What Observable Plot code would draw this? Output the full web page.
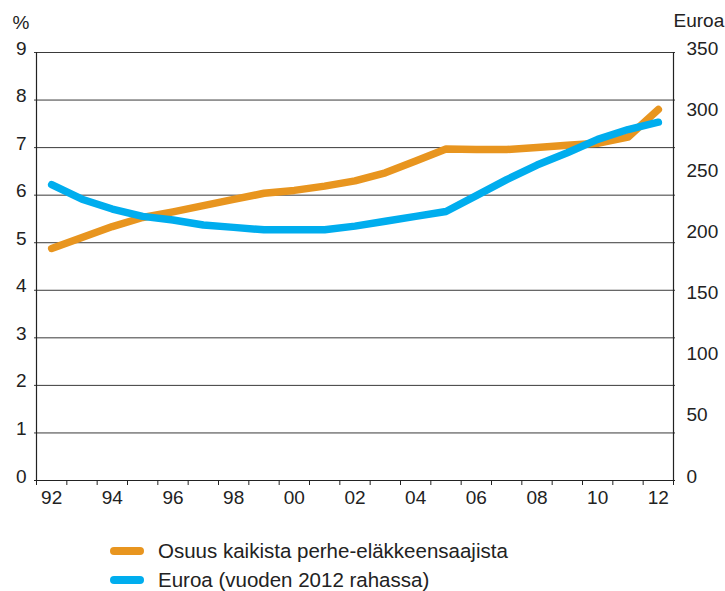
<!DOCTYPE html>
<html>
<head>
<meta charset="utf-8">
<script src="https://cdn.jsdelivr.net/npm/d3@7"></script>
<script src="https://cdn.jsdelivr.net/npm/@observablehq/plot@0.6"></script>
<style>
  html, body { margin: 0; padding: 0; background: #fff; }
  #wrap { position: relative; width: 725px; height: 591px; font-family: "Liberation Sans", "DejaVu Sans", sans-serif; color: #222; }
  .leg { position: absolute; left: 110px; height: 20px; line-height: 20px; display: flex; align-items: center; font-size: 20.5px; white-space: nowrap; }
  .sw { width: 34px; height: 8px; border-radius: 4px; margin-right: 14px; }
</style>
</head>
<body>
<div id="wrap"></div>
<script>
const years = [1992,1993,1994,1995,1996,1997,1998,1999,2000,2001,2002,2003,2004,2005,2006,2007,2008,2009,2010,2011,2012];
const osuus = [4.88,5.11,5.34,5.53,5.65,5.78,5.91,6.04,6.10,6.19,6.30,6.47,6.72,6.97,6.96,6.96,7.00,7.05,7.09,7.22,7.80];
const euroa = [242,230,222,216,213,209,207,205,205,205,208,212,216,220,233,246,258,268,279,287,293];
const pctTicks = [0,1,2,3,4,5,6,7,8,9];
const eurTicks = [0,50,100,150,200,250,300,350];
const labelYears = [1992,1994,1996,1998,2000,2002,2004,2006,2008,2010,2012];
const seriesNames = ["Osuus kaikista perhe-eläkkeensaajista", "Euroa (vuoden 2012 rahassa)"];
const colors = ["#E8951F", "#00ADEE"];

const eurMax = 350, pctMax = 9;
const toPct = e => e * pctMax / eurMax;
const rows = years.map((y, i) => ({year: y, osuus: osuus[i], euroa: toPct(euroa[i])}));
const boundaries = years.map(y => y - 0.5).concat([years[years.length - 1] + 0.5]);

const chart = Plot.plot({
  width: 725,
  height: 510,
  marginLeft: 36,
  marginRight: 52,
  marginTop: 52,
  marginBottom: 30,
  style: {fontFamily: "'Liberation Sans', 'DejaVu Sans', sans-serif", fontSize: "19px", color: "#222", background: "#fff"},
  x: {domain: [boundaries[0], boundaries[boundaries.length - 1]]},
  y: {domain: [0, pctMax]},
  marks: [
    Plot.ruleY(pctTicks.slice(1), {stroke: "#3a3a3a", strokeWidth: 1, insetLeft: -2, insetRight: -2}),
    Plot.ruleX([boundaries[0], boundaries[boundaries.length - 1]], {stroke: "#222", strokeWidth: 1.2}),
    Plot.ruleY([0], {stroke: "#222", strokeWidth: 1.2, insetLeft: -2, insetRight: -2}),
    Plot.axisX({ticks: boundaries, tickSize: 5, tickFormat: () => "", stroke: "#222", label: null}),
    Plot.axisX({ticks: labelYears, tickSize: 0, tickPadding: 10, tickFormat: d => String(d).slice(2), label: null}),
    Plot.axisY({ticks: pctTicks, tickSize: 0, tickPadding: 10, dy: -4, label: null}),
    Plot.axisY({anchor: "right", ticks: eurTicks.map(toPct), tickSize: 0, tickPadding: 13, dy: -4, tickFormat: d => String(Math.round(d * eurMax / pctMax)), label: null}),
    Plot.text(["%"], {frameAnchor: "top-left", dx: -24, dy: -37, textAnchor: "start"}),
    Plot.text(["Euroa"], {frameAnchor: "top-right", dx: 0, dy: -39, textAnchor: "start"}),
    Plot.line(rows, {x: "year", y: "osuus", stroke: colors[0], strokeWidth: 7.5, strokeLinecap: "round", strokeLinejoin: "round"}),
    Plot.line(rows, {x: "year", y: "euroa", stroke: colors[1], strokeWidth: 7.5, strokeLinecap: "round", strokeLinejoin: "round"})
  ]
});

const wrap = document.getElementById("wrap");
wrap.appendChild(chart);
seriesNames.forEach((name, i) => {
  const d = document.createElement("div");
  d.className = "leg";
  d.style.top = (541 + i * 29) + "px";
  d.innerHTML = `<span class="sw" style="background:${colors[i]}"></span><span></span>`;
  d.lastChild.textContent = name;
  wrap.appendChild(d);
});
</script>
</body>
</html>
